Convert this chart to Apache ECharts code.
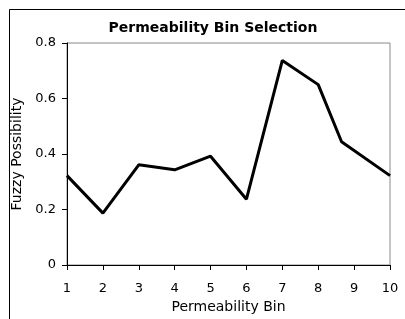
<!DOCTYPE html>
<html>
<head>
<meta charset="utf-8">
<script src="https://cdn.jsdelivr.net/npm/echarts@6/dist/echarts.min.js"></script>
<style>
  html, body { margin: 0; padding: 0; background: #fff; }
  #chart { width: 405px; height: 319px; }
</style>
</head>
<body>
<div id="chart"></div>
<script>
// bins (x) and fuzzy possibility (y)
var binX = [1, 2, 3, 4, 5, 6, 7, 8, 8.65, 10];
var possibility = [0.322, 0.187, 0.361, 0.343, 0.392, 0.237, 0.737, 0.65, 0.444, 0.322];
var yTicks = [0, 0.2, 0.4, 0.6, 0.8];

var chart = echarts.init(document.getElementById("chart"));

var points = [];
for (var i = 0; i < binX.length; i++) {
  points.push([binX[i], possibility[i]]);
}

var font = "DejaVu Sans, sans-serif";

chart.setOption({
  animation: false,
  title: {
    text: "Permeability Bin Selection",
    left: 208,
    top: 16,
    textAlign: "center",
    textStyle: { fontFamily: font, fontSize: 14, fontWeight: "bold", color: "#000" }
  },
  graphic: [
    {
      type: "rect",
      shape: { x: 9.5, y: 9.5, width: 420, height: 330 },
      style: { fill: "none", stroke: "#000", lineWidth: 1 }
    }
  ],
  grid: {
    left: 67,
    top: 43,
    right: 15,
    bottom: 47,
    show: true,
    borderColor: "#888",
    borderWidth: 1
  },
  xAxis: {
    type: "value",
    min: 1,
    max: 10,
    interval: 1,
    name: "Permeability Bin",
    nameLocation: "middle",
    nameGap: 35,
    nameTextStyle: { fontFamily: font, fontSize: 14, color: "#000" },
    axisLine: { show: true, lineStyle: { color: "#000", width: 1 } },
    axisTick: { show: true, length: 5, lineStyle: { color: "#000" } },
    axisLabel: { fontFamily: font, fontSize: 13, color: "#000", margin: 17 },
    splitLine: { show: false }
  },
  yAxis: {
    type: "value",
    min: yTicks[0],
    max: yTicks[yTicks.length - 1],
    interval: 0.2,
    name: "Fuzzy Possibility",
    nameLocation: "middle",
    nameGap: 39,
    nameRotate: 90,
    nameTextStyle: { fontFamily: font, fontSize: 14, color: "#000" },
    axisLine: { show: true, lineStyle: { color: "#000", width: 1 } },
    axisTick: { show: true, length: 5, lineStyle: { color: "#000" } },
    axisLabel: { fontFamily: font, fontSize: 13, color: "#000", margin: 11 },
    splitLine: { show: false }
  },
  series: [
    {
      type: "line",
      data: points,
      showSymbol: false,
      symbol: "none",
      lineStyle: { color: "#000", width: 3 }
    }
  ]
});
</script>
</body>
</html>
